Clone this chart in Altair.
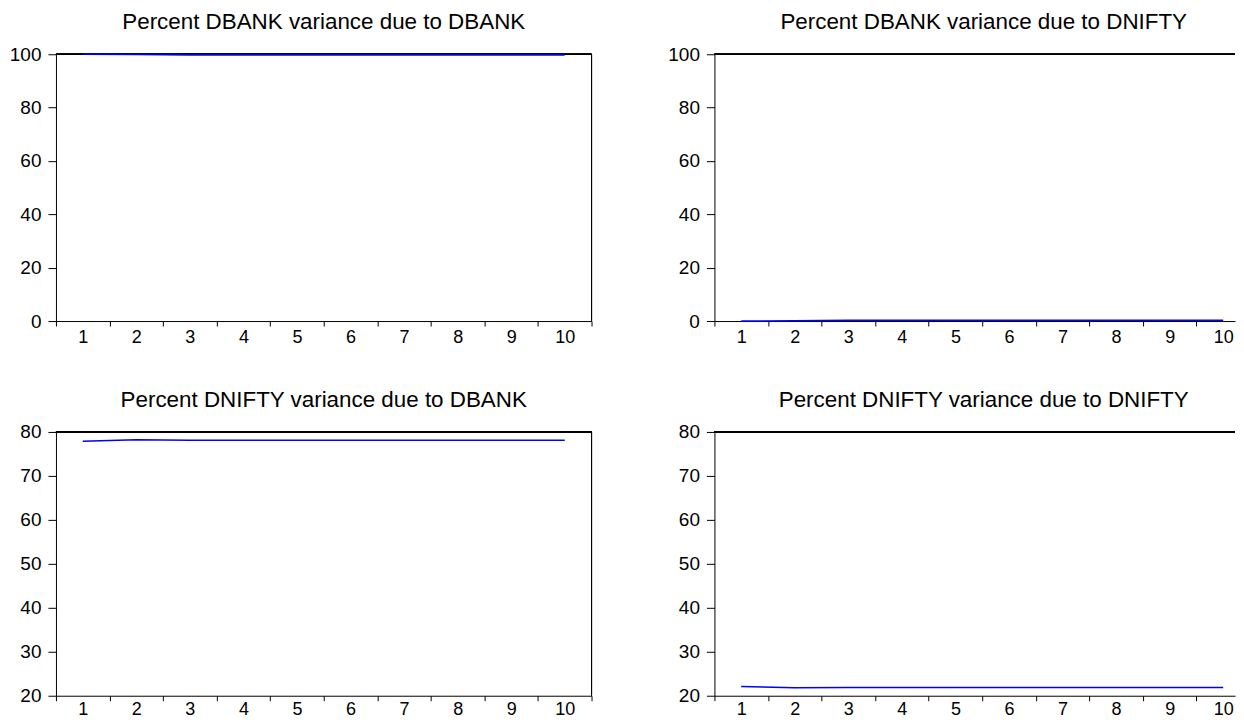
import altair as alt
import pandas as pd

periods = list(range(1, 11))
dbank_due_dbank = [100.0, 99.9, 99.75, 99.72, 99.72, 99.72, 99.72, 99.72, 99.72, 99.72]
dbank_due_dnifty = [0.0, 0.1, 0.25, 0.28, 0.28, 0.28, 0.28, 0.28, 0.28, 0.28]
dnifty_due_dbank = [77.9, 78.2, 78.1, 78.1, 78.1, 78.1, 78.1, 78.1, 78.1, 78.1]
dnifty_due_dnifty = [22.1, 21.8, 21.9, 21.9, 21.9, 21.9, 21.9, 21.9, 21.9, 21.9]

titles = [
    "Percent DBANK variance due to DBANK",
    "Percent DBANK variance due to DNIFTY",
    "Percent DNIFTY variance due to DBANK",
    "Percent DNIFTY variance due to DNIFTY",
]
top_ticks = [0, 20, 40, 60, 80, 100]
bottom_ticks = [20, 30, 40, 50, 60, 70, 80]
band_edges = [0.5, 1.5, 2.5, 3.5, 4.5, 5.5, 6.5, 7.5, 8.5, 9.5, 10.5]

FONT = "Liberation Sans"
BLUE = "#0000FF"
W_LEFT = 536          # full 10 periods
W_RIGHT = 521         # right panels are cut by the page edge
PX_PER_PERIOD = W_LEFT / 10.0


def panel(values, title, ydomain, yticks, height, width, right_border, title_dx, xpad):
    df = pd.DataFrame({"period": periods, "value": values})
    xmax = 0.5 + width / PX_PER_PERIOD
    edges = [e for e in band_edges if e <= xmax + 1e-9]
    xscale = alt.Scale(domain=[0.5, xmax], nice=False, zero=False)
    yscale = alt.Scale(domain=ydomain, nice=False, zero=False)
    yaxis = alt.Axis(title=None, values=yticks, tickSize=8, labelPadding=7,
                     labelFontSize=19, grid=False)
    base = alt.Chart(df)
    tick_layer = base.mark_line(opacity=0).encode(
        x=alt.X(
            "period:Q",
            scale=xscale,
            axis=alt.Axis(title=None, values=edges, labels=False, tickSize=5,
                          orient="bottom", grid=False),
        ),
        y=alt.Y("value:Q", scale=yscale, axis=yaxis),
    )
    line_layer = base.mark_line(color=BLUE, strokeWidth=1.5).encode(
        x=alt.X(
            "period:Q",
            scale=xscale,
            axis=alt.Axis(title=None, values=periods, format="d", domain=False,
                          tickSize=5, tickOpacity=0, labelPadding=xpad,
                          labelFontSize=18, labelFlush=False, orient="bottom",
                          grid=False),
        ),
        y=alt.Y("value:Q", scale=yscale, axis=yaxis),
    )
    top_rule = base.mark_rule(color="black", strokeWidth=1).encode(
        x=alt.value(0), x2=alt.value(width), y=alt.value(0)
    )
    layers = [tick_layer, top_rule]
    if right_border:
        layers.append(
            base.mark_rule(color="black", strokeWidth=1).encode(
                x=alt.value(width), y=alt.value(0), y2=alt.value(height)
            )
        )
    layers.append(line_layer)
    return (
        alt.layer(*layers)
        .resolve_axis(x="independent")
        .properties(width=width, height=height,
                    title=alt.TitleParams(text=title, dx=title_dx))
    )


tl = panel(dbank_due_dbank, titles[0], [0, 100], top_ticks, 267, W_LEFT, True, 0, 2)
tr = panel(dbank_due_dnifty, titles[1], [0, 100], top_ticks, 267, W_RIGHT, False, 9, 2)
bl = panel(dnifty_due_dbank, titles[2], [20, 80], bottom_ticks, 264, W_LEFT, True, 0, 0)
br = panel(dnifty_due_dnifty, titles[3], [20, 80], bottom_ticks, 264, W_RIGHT, False, 9, 0)

chart = (
    alt.hconcat(
        alt.vconcat(tl, bl, spacing=41),
        alt.vconcat(tr, br, spacing=41),
        spacing=74,
    )
    .properties(padding={"left": 0, "top": 2, "right": 0, "bottom": 0}, background="white")
    .configure_view(stroke="transparent")
    .configure_axis(
        domainColor="black",
        domainWidth=1,
        tickColor="black",
        tickWidth=1,
        labelColor="black",
        labelFont=FONT,
    )
    .configure_title(font=FONT, fontSize=22.4, fontWeight="normal", color="black",
                     offset=12, anchor="middle")
)

chart.save("out.html", embed_options={"renderer": "svg", "actions": False})
